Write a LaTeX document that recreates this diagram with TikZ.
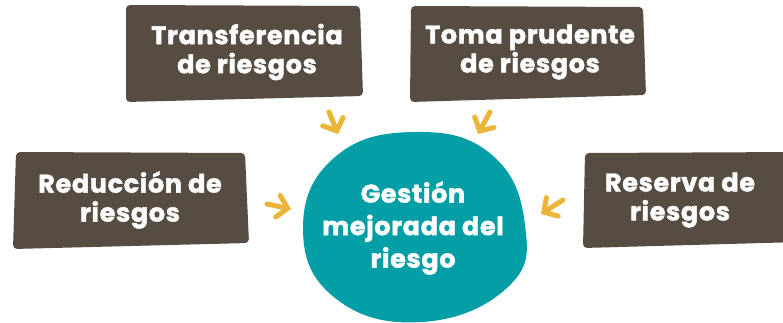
\documentclass[tikz,border=0pt]{standalone}
\usepackage{fontspec}
\setmainfont{Poppins}[BoldFont={Poppins Bold},BoldFeatures={FakeBold=1.6,LetterSpace=2.5}]
\usetikzlibrary{arrows.meta}
\definecolor{boxbrown}{RGB}{86,76,65}
\definecolor{coreteal}{RGB}{4,159,166}
\definecolor{arrowgold}{RGB}{236,180,56}
\tikzset{
  boxfill/.style={fill=boxbrown,rounded corners=4pt},
  boxtext/.style={text=white,align=center,font=\bfseries\fontsize{25.5}{29}\selectfont},
  coretext/.style={text=white,align=center,font=\bfseries\fontsize{25.5}{32.5}\selectfont},
  feed/.style={draw=arrowgold,line width=5pt,line cap=round,-{Straight Barb[length=10pt,width=22pt,line cap=round]}}
}
\begin{document}
\begin{tikzpicture}[x=1pt,y=-1pt]
            \useasboundingbox (0,0) rectangle (783,323);
            \fill[boxfill] (126,5) -- (360,6) -- (363,96) -- (126,102) -- cycle;
            \fill[boxfill] (411,6) -- (643,7) -- (646,95) -- (410,102) -- cycle;
            \fill[boxfill] (16,152) -- (245,153) -- (249,243) -- (13,249) -- cycle;
            \fill[boxfill] (585,153) -- (800,152) -- (800,242) -- (583,248) -- cycle;
            \fill[coreteal] plot[smooth cycle,tension=0.75] coordinates {(415,132) (492,155) (525,225) (508,287) (422,322) (335,298) (303,228) (335,157)};
            \node[boxtext] (transfer) at (247,52) {Transferencia\\de riesgos};
            \node[boxtext] (toma) at (530,52) {Toma prudente\\de riesgos};
            \node[boxtext] (reduccion) at (130,200) {Reducción de\\riesgos};
            \node[boxtext] (reserva) at (680,200) {Reserva de\\riesgos};
            \node[coretext] (core) at (413,228) {Gestión\\mejorada del\\riesgo};
            \coordinate (t1) at (329,112); \coordinate (t2) at (338,134);
            \coordinate (p1) at (490,112); \coordinate (p2) at (478,134);
            \coordinate (r1) at (267,204); \coordinate (r2) at (291,209);
            \coordinate (s1) at (563,200); \coordinate (s2) at (541,214);
            \draw[feed] (t1) -- (t2);
            \draw[feed] (p1) -- (p2);
            \draw[feed] (r1) -- (r2);
            \draw[feed] (s1) -- (s2);
        \end{tikzpicture}
\end{document}
